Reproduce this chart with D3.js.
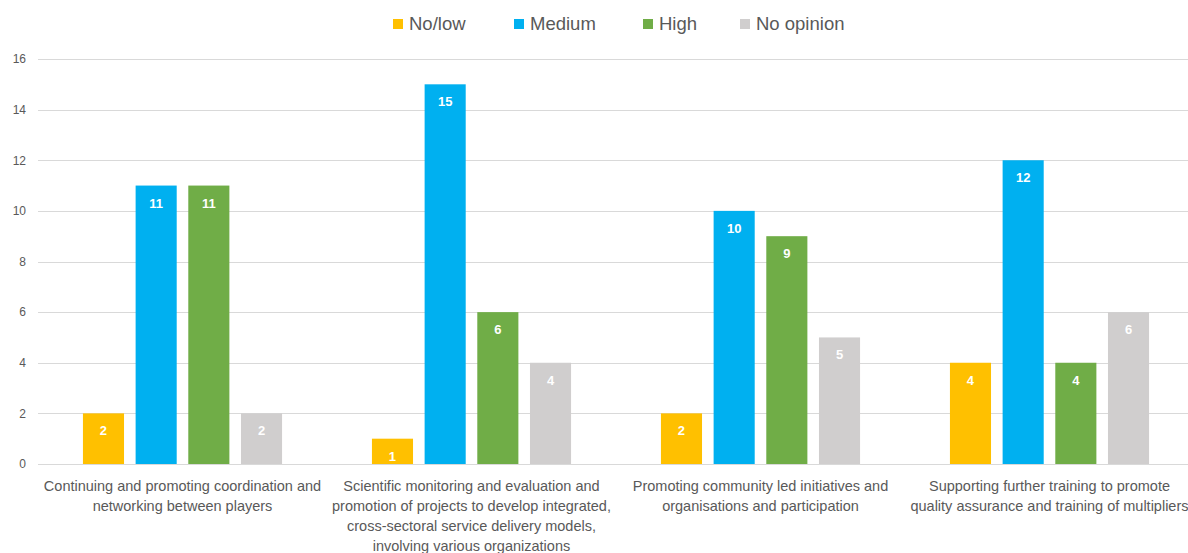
<!DOCTYPE html>
<html>
<head>
<meta charset="utf-8">
<script src="https://cdn.jsdelivr.net/npm/d3@7"></script>
<style>
  html, body { margin: 0; padding: 0; background: #fff; overflow: hidden; }
  svg { display: block; font-family: "Liberation Sans", Arial, sans-serif; }
</style>
</head>
<body>
<svg id="chart" width="1188" height="553"></svg>
<script>
// Priority areas, each split into four rating groups
const categories = [
  ["Continuing and promoting coordination and", "networking between players"],
  ["Scientific monitoring and evaluation and", "promotion of projects to develop integrated,", "cross-sectoral service delivery models,", "involving various organizations"],
  ["Promoting community led initiatives and", "organisations and participation"],
  ["Supporting further training to promote", "quality assurance and training of multipliers"]
];
const seriesNames = ["No/low", "Medium", "High", "No opinion"];
const seriesColors = ["#FFC000", "#00B0F0", "#70AD47", "#D0CECE"];
const noLow     = [2, 1, 2, 4];
const medium    = [11, 15, 10, 12];
const high      = [11, 6, 9, 4];
const noOpinion = [2, 4, 5, 6];
const yTicks = [0, 2, 4, 6, 8, 10, 12, 14, 16];

const seriesValues = [noLow, medium, high, noOpinion];

const svg = d3.select("#chart");
const plot = { left: 38, right: 1194, top: 59, bottom: 464 };

const x0 = d3.scaleBand()
  .domain(d3.range(categories.length))
  .range([plot.left, plot.right])
  .paddingInner(0.311)
  .paddingOuter(0.1555);

const x1 = d3.scaleBand()
  .domain(d3.range(seriesNames.length))
  .range([0, x0.bandwidth()])
  .paddingInner(0.22)
  .paddingOuter(0);

const y = d3.scaleLinear().domain([0, 16]).range([plot.bottom, plot.top]);

// Horizontal gridlines
svg.append("g")
  .selectAll("line")
  .data(yTicks)
  .join("line")
  .attr("x1", plot.left)
  .attr("x2", plot.right)
  .attr("y1", d => Math.round(y(d)) + 0.5)
  .attr("y2", d => Math.round(y(d)) + 0.5)
  .attr("stroke", "#D9D9D9")
  .attr("stroke-width", 1);

// Y axis tick labels
const yAxis = d3.axisLeft(y).tickValues(yTicks).tickSize(0).tickPadding(0);
const yg = svg.append("g")
  .attr("transform", `translate(${plot.left - 12},0)`)
  .call(yAxis);
yg.select(".domain").remove();
yg.selectAll("text")
  .attr("fill", "#595959")
  .style("font-size", "12px")
  .style("font-family", "'Liberation Sans', Arial, sans-serif");

// Bars
const groups = svg.append("g")
  .selectAll("g")
  .data(categories.map((c, i) => i))
  .join("g")
  .attr("transform", i => `translate(${x0(i)},0)`);

groups.selectAll("rect")
  .data(i => seriesValues.map((vals, s) => ({ s, v: vals[i] })))
  .join("rect")
  .attr("x", d => x1(d.s))
  .attr("width", x1.bandwidth())
  .attr("y", d => y(d.v))
  .attr("height", d => y(0) - y(d.v))
  .attr("fill", d => seriesColors[d.s]);

// Value labels inside the bar tops
groups.selectAll("text.val")
  .data(i => seriesValues.map((vals, s) => ({ s, v: vals[i] })))
  .join("text")
  .attr("class", "val")
  .attr("x", d => x1(d.s) + x1.bandwidth() / 2)
  .attr("y", d => y(d.v) + 22)
  .attr("text-anchor", "middle")
  .attr("fill", "#FFFFFF")
  .style("font-size", "13px")
  .style("font-weight", "bold")
  .text(d => d.v);

// Category labels (multi-line, centred under each group)
const catLabels = svg.append("g")
  .selectAll("text")
  .data(categories.map((lines, i) => ({ lines, i })))
  .join("text")
  .attr("x", d => x0(d.i) + x0.bandwidth() / 2)
  .attr("y", 491)
  .attr("text-anchor", "middle")
  .attr("fill", "#595959")
  .style("font-size", "14.5px");
catLabels.selectAll("tspan")
  .data(d => d.lines.map(l => ({ l, x: x0(d.i) + x0.bandwidth() / 2 })))
  .join("tspan")
  .attr("x", d => d.x)
  .attr("dy", (d, k) => k === 0 ? 0 : 20)
  .text(d => d.l);

// Legend
const legendX = [393, 514, 643, 740];
const legend = svg.append("g")
  .selectAll("g")
  .data(seriesNames.map((n, s) => ({ n, s })))
  .join("g")
  .attr("transform", d => `translate(${legendX[d.s]},19)`);
legend.append("rect")
  .attr("width", 10)
  .attr("height", 10)
  .attr("fill", d => seriesColors[d.s]);
legend.append("text")
  .attr("x", 16)
  .attr("y", 11)
  .attr("fill", "#595959")
  .style("font-size", "18.5px")
  .text(d => d.n);
</script>
</body>
</html>
